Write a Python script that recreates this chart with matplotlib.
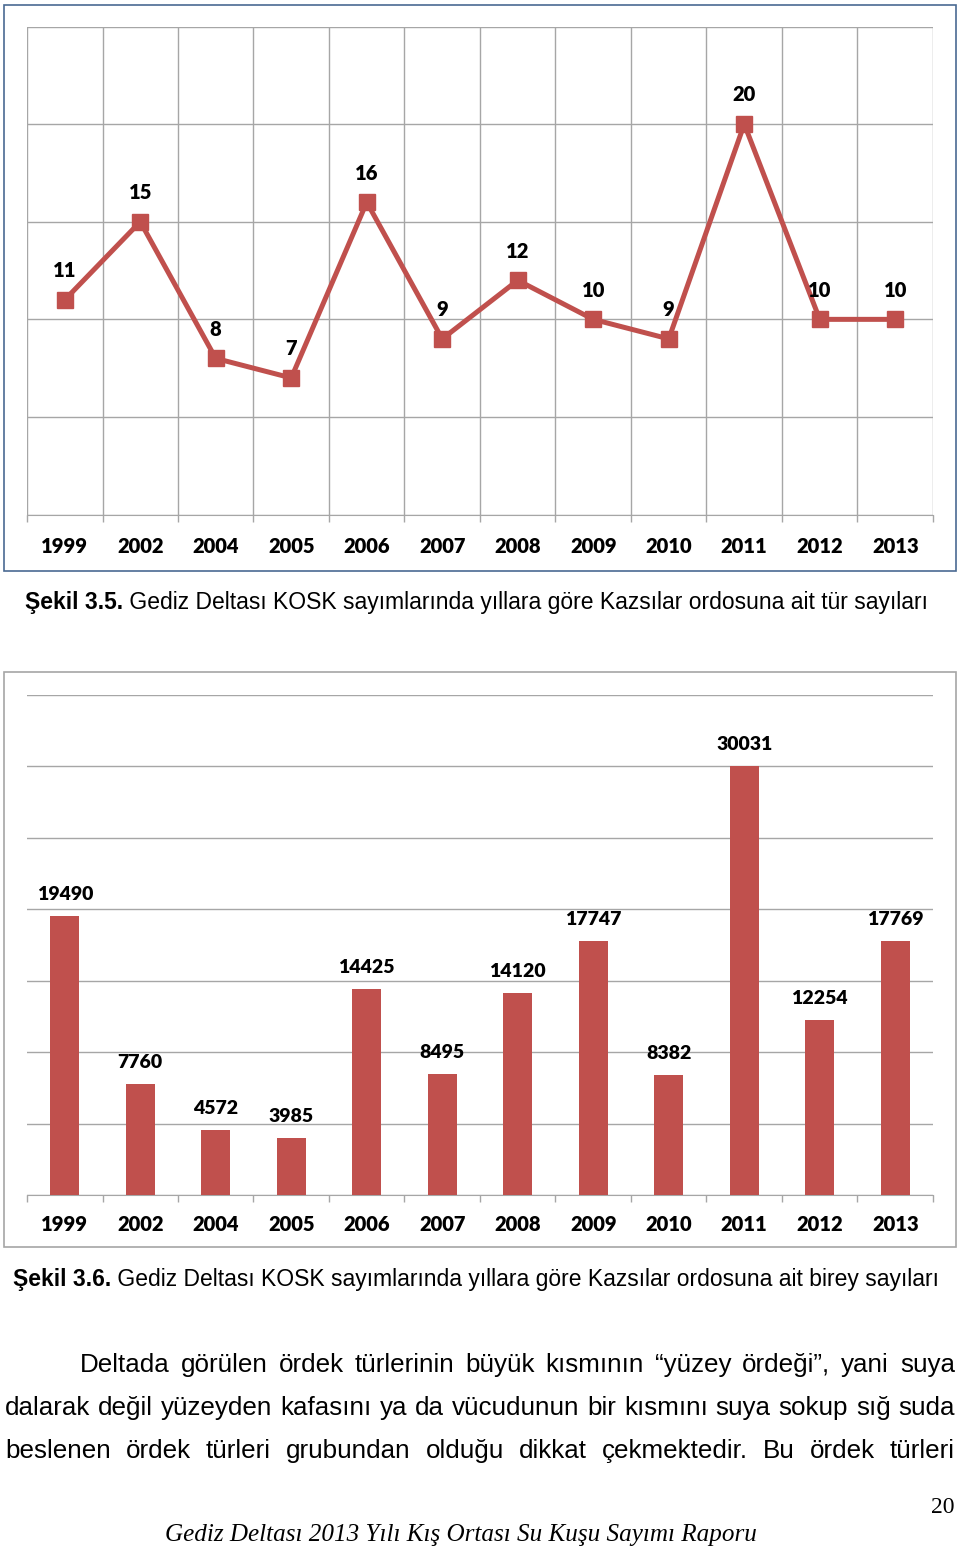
import matplotlib
matplotlib.use('Agg')
import numpy as np
import matplotlib.pyplot as plt
from matplotlib.patches import Rectangle

# data
years = ['1999', '2002', '2004', '2005', '2006', '2007', '2008', '2009', '2010', '2011', '2012', '2013']
species = [11, 15, 8, 7, 16, 9, 12, 10, 9, 20, 10, 10]
individuals = [19490, 7760, 4572, 3985, 14425, 8495, 14120, 17747, 8382, 30031, 12254, 17769]

caption1_bold = 'Şekil 3.5.'
caption1_rest = ' Gediz Deltası KOSK sayımlarında yıllara göre Kazsılar ordosuna ait tür sayıları'
caption2_bold = 'Şekil 3.6.'
caption2_rest = ' Gediz Deltası KOSK sayımlarında yıllara göre Kazsılar ordosuna ait birey sayıları'
body_lines = [
    'Deltada görülen ördek türlerinin büyük kısmının “yüzey ördeği”, yani suya',
    'dalarak değil yüzeyden kafasını ya da vücudunun bir kısmını suya sokup sığ suda',
    'beslenen ördek türleri grubundan olduğu dikkat çekmektedir. Bu ördek türleri',
]
page_no = '20'
footer = 'Gediz Deltası 2013 Yılı Kış Ortası Su Kuşu Sayımı Raporu'

RED = '#C0504D'
GRID = '#A6A6A6'
W, H = 960, 1548
LABEL_FONT = ['Lato', 'DejaVu Sans']
SANS = ['Liberation Sans', 'DejaVu Sans']
SERIF = ['Liberation Serif', 'DejaVu Serif']

fig = plt.figure(figsize=(W / 100, H / 100), dpi=100)
renderer = fig.canvas.get_renderer()


def fx(x):
    return x / W


def fy(y):
    return 1 - y / H


def box(x0, y0, x1, y1):
    return [fx(x0), fy(y1), (x1 - x0) / W, (y1 - y0) / H]


def text_width(s, **kw):
    t = fig.text(0, 0, s, **kw)
    w = t.get_window_extent(renderer).width
    t.remove()
    return w


# outer frames of the two charts
fig.patches.append(Rectangle((fx(4), fy(571)), (956 - 4) / W, (571 - 5) / H, transform=fig.transFigure,
                             facecolor='none', edgecolor='#4A6A92', lw=1.2))
fig.patches.append(Rectangle((fx(4), fy(1247)), (956 - 4) / W, (1247 - 672) / H, transform=fig.transFigure,
                             facecolor='none', edgecolor='#A6A6A6', lw=1.2))

x = np.arange(len(years))
lab = dict(fontsize=14.5, fontweight='heavy', family=LABEL_FONT)

# --- chart 1: line chart of species counts
ax1 = fig.add_axes(box(27, 26.5, 933, 514.6))
ax1.plot(x, species, color=RED, lw=3.6, marker='s', markersize=11, zorder=3, clip_on=False)
for xi, v in zip(x, species):
    ax1.annotate(str(v), (xi, v), xytext=(0, 21), textcoords='offset points', ha='center', va='center', **lab)
ax1.set_xlim(-0.5, len(years) - 0.5)
ax1.set_ylim(0, 25)
ax1.set_yticks(np.arange(0, 26, 5))
ax1.set_xticks(x)
ax1.set_xticklabels(years, **lab)
ax1.set_xticks(np.arange(-0.5, len(years), 1), minor=True)
ax1.tick_params(axis='x', which='major', length=0, pad=16)
ax1.tick_params(axis='x', which='minor', length=5, color=GRID, width=1)
ax1.tick_params(axis='y', length=0, labelleft=False)
ax1.grid(axis='y', which='major', color=GRID, lw=1)
ax1.grid(axis='x', which='minor', color=GRID, lw=1)
for s in ['top', 'left', 'right']:
    ax1.spines[s].set_visible(False)
ax1.spines['bottom'].set_color(GRID)
ax1.set_axisbelow(True)

# --- chart 2: bar chart of individuals
ax2 = fig.add_axes(box(27, 694.7, 933, 1195.2))
ax2.bar(x, individuals, width=0.39, color=RED, zorder=3)
for xi, v in zip(x, individuals):
    ax2.annotate(str(v), (xi, v), xytext=(0, 15.5), textcoords='offset points', ha='center', va='center',
                 fontsize=14, fontweight='heavy', family=LABEL_FONT)
ax2.set_xlim(-0.5, len(years) - 0.5)
ax2.set_ylim(0, 35000)
ax2.set_yticks(np.arange(0, 35001, 5000))
ax2.set_xticks(x)
ax2.set_xticklabels(years, **lab)
ax2.set_xticks(np.arange(-0.5, len(years), 1), minor=True)
ax2.tick_params(axis='x', which='major', length=0, pad=14)
ax2.tick_params(axis='x', which='minor', length=5, color=GRID, width=1)
ax2.tick_params(axis='y', length=0, labelleft=False)
ax2.grid(axis='y', which='major', color=GRID, lw=1)
for s in ['top', 'left', 'right']:
    ax2.spines[s].set_visible(False)
ax2.spines['bottom'].set_color(GRID)
ax2.set_axisbelow(True)


# --- captions: bold figure number followed by regular text, fitted to width
def caption(bold, rest, x0, x1, baseline):
    w10 = text_width(bold, fontsize=10, fontweight='bold', family=SANS) + text_width(rest, fontsize=10, family=SANS)
    fs = 10 * (x1 - x0) / w10
    t = fig.text(fx(x0), fy(baseline), bold, fontsize=fs, fontweight='bold', family=SANS, va='baseline')
    wb = t.get_window_extent(renderer).width
    fig.text(fx(x0 + wb), fy(baseline), rest, fontsize=fs, family=SANS, va='baseline')


caption(caption1_bold, caption1_rest, 25, 935, 609)
caption(caption2_bold, caption2_rest, 13, 946, 1286)

# --- body paragraph, justified (font size fitted so the longest line nearly fills the width)
widest = max(text_width(l, fontsize=10, family=SANS) for l in body_lines[1:])
body_fs = 10 * 946 / widest
starts = [80, 5, 5]
baselines = [1372, 1415, 1458]
for line, x0, yb in zip(body_lines, starts, baselines):
    words = line.split(' ')
    widths = [text_width(wd, fontsize=body_fs, family=SANS) for wd in words]
    gap = (955 - x0 - sum(widths)) / (len(words) - 1)
    xp = x0
    for wd, ww in zip(words, widths):
        fig.text(fx(xp), fy(yb), wd, fontsize=body_fs, family=SANS, va='baseline')
        xp += ww + gap

# --- page number and footer
fig.text(fx(955), fy(1513), page_no, fontsize=17, family=SERIF, ha='right', va='baseline')
fw = text_width(footer, fontsize=10, family=SERIF, style='italic')
fig.text(fx(165), fy(1541), footer, fontsize=10 * 592 / fw, family=SERIF, style='italic', va='baseline')

fig.savefig('out.png', dpi=100)
